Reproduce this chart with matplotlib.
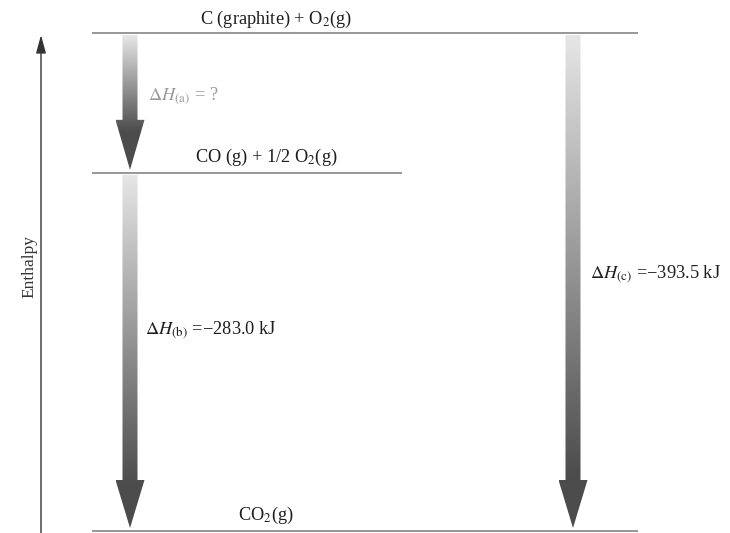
import matplotlib
matplotlib.use("Agg")
import matplotlib.pyplot as plt
import numpy as np
from matplotlib.path import Path
from matplotlib.patches import PathPatch

plt.rcParams['font.family'] = ['Liberation Serif', 'DejaVu Serif']
plt.rcParams['mathtext.fontset'] = 'stix'

# ---- data ----
level_names = ["C (graphite) + O$_2$(g)", "CO (g) + 1/2 O$_2$(g)", "CO$_2$(g)"]
level_enthalpy = [0.0, -110.5, -393.5]          # kJ
step_labels = [r"$\Delta H_{\mathrm{(a)}}$ = ?",
               r"$\Delta H_{\mathrm{(b)}}$ =−283.0 kJ",
               r"$\Delta H_{\mathrm{(c)}}$ =−393.5 kJ"]
step_from = [0.0, -110.5, 0.0]
step_to = [-110.5, -393.5, -393.5]
axis_label = "Enthalpy"

# ---- layout ----
W, H = 730, 533
fig = plt.figure(figsize=(W / 100, H / 100), dpi=100)
ax = fig.add_axes([0, 0, 1, 1])
top_px, bot_px = 33, 531
scale = (bot_px - top_px) / 393.5   # px per kJ


def py(p):
    """pixel row -> enthalpy coordinate"""
    return -(p - top_px) / scale


ax.set_xlim(0, W)
ax.set_ylim(py(H), py(0))
ax.axis('off')

line_color = '#7a7a7a'
level_x = [(92, 638), (92, 402), (92, 638)]
for (x0, x1), e in zip(level_x, level_enthalpy):
    ax.plot([x0, x1], [e, e], color=line_color, lw=1.1, solid_capstyle='butt')

# level labels
label_pos = [(276, 24), (266, 162), (266, 520)]
for name, (x, yb) in zip(level_names, label_pos):
    ax.text(x, py(yb), name, ha='center', va='baseline', fontsize=13.2, color='#1e1e1e')

# vertical enthalpy axis with arrow
ax.annotate('', xy=(41, py(35)), xytext=(41, py(H + 2)),
            arrowprops=dict(arrowstyle='-|>,head_length=1.1,head_width=0.3',
                            color='#333333', lw=1.0, shrinkA=0, shrinkB=0))
ax.text(29, py(266), axis_label, rotation=90, ha='center', va='center',
        fontsize=12.5, color='#333333')

# gradient arrows
cmap = matplotlib.colors.LinearSegmentedColormap.from_list('g', ['#e6e6e6', '#4c4c4c'])
arrow_x = [130, 130, 573]
start_gap = [2, 2, 2]
tip_gap = [3, 3, 3]
head_len = [50, 48, 48]
dark_at = [0.72, 0.88, 0.9]
for i in range(3):
    xc = arrow_x[i]
    y0 = step_from[i] - start_gap[i] / scale
    y1 = step_to[i] + tip_gap[i] / scale
    hl = head_len[i] / scale
    sw, hw = 7.5, 14.5
    verts = [(xc - sw, y0), (xc + sw, y0), (xc + sw, y1 + hl), (xc + hw, y1 + hl),
             (xc, y1), (xc - hw, y1 + hl), (xc - sw, y1 + hl), (xc - sw, y0)]
    path = Path(verts, [Path.MOVETO] + [Path.LINETO] * 6 + [Path.CLOSEPOLY])
    patch = PathPatch(path, facecolor='none', edgecolor='none')
    ax.add_patch(patch)
    t = np.linspace(0, 1, 256)
    g = np.clip(t / dark_at[i], 0, 1).reshape(-1, 1)
    im = ax.imshow(g, cmap=cmap, vmin=0, vmax=1, aspect='auto',
                   extent=[xc - hw, xc + hw, y1, y0], origin='upper',
                   interpolation='bilinear')
    im.set_clip_path(patch)

# step labels
step_pos = [(148, 100), (145, 334), (590, 278)]
step_colors = ['#9a9a9a', '#1e1e1e', '#1e1e1e']
for lab, (x, yb), c in zip(step_labels, step_pos, step_colors):
    ax.text(x, py(yb), lab, ha='left', va='baseline', fontsize=13.2, color=c)

ax.set_xlim(0, W)
ax.set_ylim(py(H), py(0))
fig.savefig('out.png', dpi=100)
